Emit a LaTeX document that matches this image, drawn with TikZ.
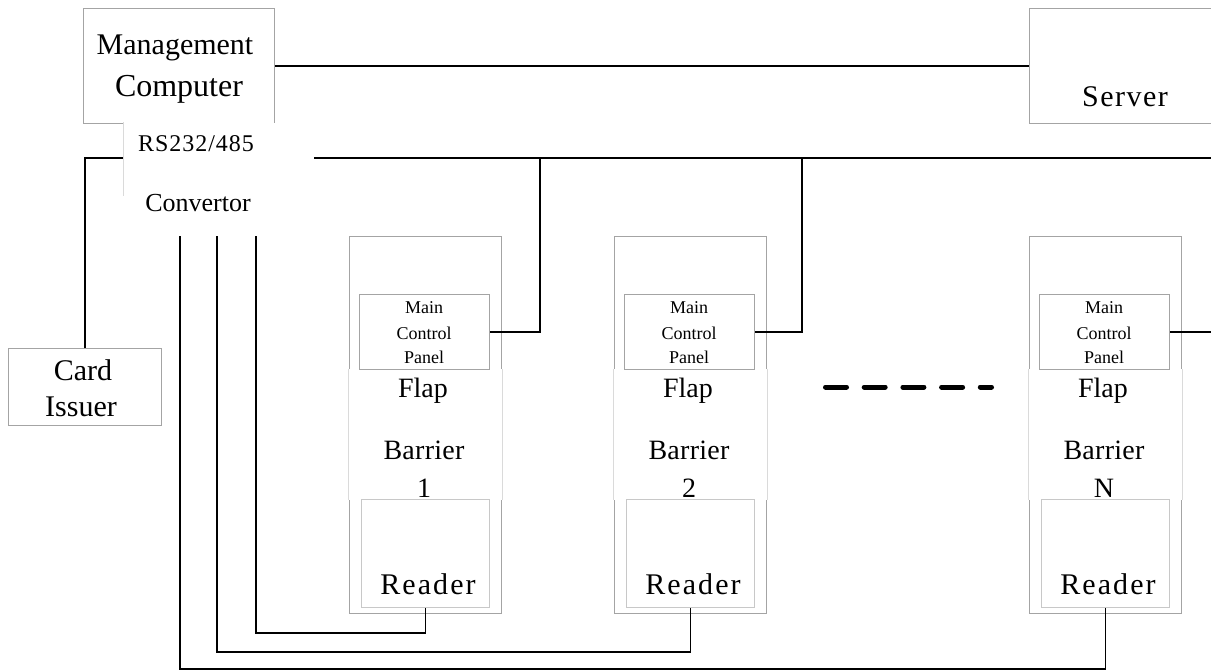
\documentclass[tikz,border=0pt]{standalone}
\usepackage{fontspec}
\setmainfont{Liberation Serif}
\definecolor{boxgray}{HTML}{A4A4A4}
\definecolor{readgray}{HTML}{C8C8C8}
\definecolor{midgray}{HTML}{DADADA}
\newcommand\fsz[2]{\fontsize{#1}{#2}\selectfont}
\tikzset{
  wire/.style={line width=1.9pt, black},
  gbox/.style={draw=boxgray, line width=1pt, fill=white, inner sep=0pt, anchor=north west},
  txt/.style={inner sep=0pt, anchor=base},
  spaced/.style 2 args={font=\fsz{#1}{#1}\addfontfeature{LetterSpace=#2}},
}
\begin{document}
\begin{tikzpicture}[x=1pt,y=-1pt]
\useasboundingbox[fill=white] (0,0) rectangle (1211,671);

% coordinates for free ends / bus
\coordinate (bus) at (0,158);
\coordinate (busend) at (1211,158);
\coordinate (rightedge) at (1211,0);
\coordinate (tap1) at (540,158);
\coordinate (tap2) at (802,158);
\coordinate (t1) at (256,236);
\coordinate (t2) at (217,236);
\coordinate (t3) at (180,236);
\coordinate (y1) at (0,633);
\coordinate (y2) at (0,652);
\coordinate (y3) at (0,669);
\coordinate (dl) at (825.5,387);
\coordinate (dr) at (991.5,387);

% Management computer
\node[gbox, minimum width=191, minimum height=115] (mgmt) at (83,8) {};
\node[txt, font=\fsz{30}{30}] (mgmtt1) at (175,55) {Management};
\node[txt, font=\fsz{32}{32}] (mgmtt2) at (179,97) {Computer};

% Server
\node[gbox, minimum width=192, minimum height=115] (server) at (1029,8) {};
\node[txt, spaced={30}{5}] (servert) at (1125,107) {Server};

% Convertor (white, borderless)
\node[fill=white, inner sep=0pt, anchor=north west, minimum width=191, minimum height=113.5] (conv) at (123,122.5) {};
\draw[midgray, line width=1pt] (conv.north west) -- ++(0,74);
\node[txt, spaced={24}{4}] (rst) at (196,152) {RS232/485};
\node[txt, font=\fsz{26}{26}] (convt) at (198,212) {Convertor};

% Card issuer
\node[gbox, minimum width=153, minimum height=77] (card) at (8,348) {};
\node[txt, font=\fsz{30}{30}] (cardt1) at (83,380) {Card};
\node[txt, font=\fsz{30}{30}] (cardt2) at (81,416) {Issuer};

% Barriers
\foreach \dx/\lbl/\nm in {0/1/1, 265/2/2, 680/N/3} {
  \node[gbox, minimum width=152, minimum height=377] (bar\nm) at (349+\dx,236) {};
  \node[fill=white, inner sep=0pt, anchor=north west, minimum width=154, minimum height=131] (mid\nm) at (348+\dx,369) {};
  \draw[midgray, line width=1pt] (mid\nm.north west) -- (mid\nm.south west)
                                 (mid\nm.north east) -- (mid\nm.south east);
  \node[gbox, minimum width=130, minimum height=75] (mcp\nm) at (359+\dx,294) {};
  \node[txt, font=\fsz{18}{18}] (mcpa\nm) at (424+\dx,313.5) {Main};
  \node[txt, font=\fsz{18}{18}] (mcpb\nm) at (424+\dx,339) {Control};
  \node[txt, font=\fsz{18}{18}] (mcpc\nm) at (424+\dx,363.5) {Panel};
  \node[txt, font=\fsz{28}{28}] (fl\nm) at (423+\dx,397) {Flap};
  \node[txt, spaced={28}{1}] (ba\nm) at (424+\dx,459) {Barrier};
  \node[txt, font=\fsz{28}{28}] (nu\nm) at (424+\dx,497) {\lbl};
  \node[draw=readgray, line width=1pt, fill=white, inner sep=0pt, anchor=north west, minimum width=128, minimum height=108] (rd\nm) at (361+\dx,499) {};
  \node[txt, spaced={30}{7}] (rdt\nm) at (428+\dx,594) {Reader};
}

% wires
\draw[wire] (mgmt.east) -- (server.west);
\draw[wire] (card.north) |- (conv.west |- bus);
\draw[wire] (conv.east |- bus) -- (busend);
\draw[wire] (mcp1.east) -| (tap1);
\draw[wire] (mcp2.east) -| (tap2);
\draw[wire] (mcp3.east) -- (mcp3.east -| rightedge);
\draw[wire] (rd1.south) |- (t1 |- y1) -- (t1);
\draw[wire] (rd2.south) |- (t2 |- y2) -- (t2);
\draw[wire, line width=1.4pt] (rd3.south) |- (t3 |- y3) -- (t3);

% dashed separator
\draw[line width=5pt, line cap=round, dash pattern=on 21pt off 17.7pt] (dl) -- (dr);
\end{tikzpicture}
\end{document}
